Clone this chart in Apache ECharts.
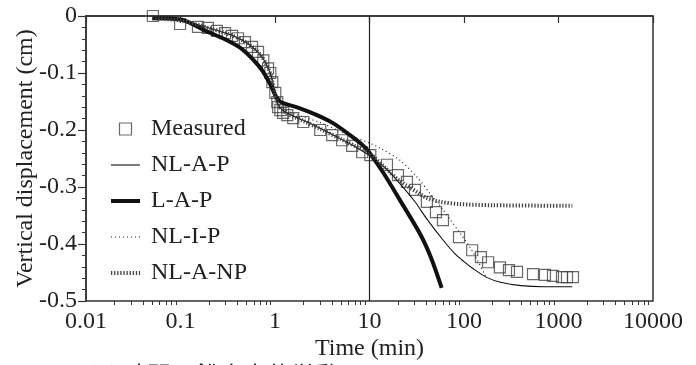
<!DOCTYPE html>
<html>
<head>
<meta charset="utf-8">
<script src="https://cdn.jsdelivr.net/npm/echarts@6/dist/echarts.min.js"></script>
<style>
html,body{margin:0;padding:0;background:#fff;}
#chart{width:696px;height:365px;}
</style>
</head>
<body>
<div id="chart"></div>
<script>
// ---- data ----
const seriesNames = ['Measured', 'NL-A-P', 'L-A-P', 'NL-I-P', 'NL-A-NP'];
const xMajorTicks = [0.01, 0.1, 1, 10, 100, 1000, 10000];
const xMinorTicks = [0.02,0.03,0.04,0.05,0.06,0.07,0.08,0.09,
  0.2,0.3,0.4,0.5,0.6,0.7,0.8,0.9,
  2,3,4,5,6,7,8,9,
  20,30,40,50,60,70,80,90,
  200,300,400,500,600,700,800,900,
  2000,3000,4000,5000,6000,7000,8000,9000];
const yTicks = [0, -0.1, -0.2, -0.3, -0.4, -0.5];
const referenceTime = 10;

const measured = [
  [0.051,0.000],[0.099,-0.014],[0.153,-0.019],[0.195,-0.021],[0.243,-0.026],
  [0.296,-0.030],[0.351,-0.035],[0.406,-0.039],[0.481,-0.046],[0.571,-0.054],
  [0.661,-0.063],[0.752,-0.078],[0.843,-0.092],[0.892,-0.100],[0.936,-0.116],
  [1.007,-0.135],[1.057,-0.151],[1.08,-0.160],[1.14,-0.165],[1.22,-0.170],
  [1.35,-0.174],[1.56,-0.179],[1.99,-0.186],[3.01,-0.200],[4.03,-0.209],
  [5.14,-0.218],[6.56,-0.228],[8.37,-0.239],[10.2,-0.244],[15.3,-0.261],
  [20.0,-0.279],[24.9,-0.291],[30.3,-0.305],[40.5,-0.326],[50.5,-0.344],
  [59.9,-0.358],[88.5,-0.388],[122,-0.411],[151,-0.423],[180,-0.432],
  [240,-0.441],[299,-0.446],[364,-0.449],[537,-0.453],[719,-0.454],
  [874,-0.456],[1089,-0.458],[1230,-0.458],[1423,-0.458]
];
const nlAP = [
  [0.05,-0.004],[0.1,-0.008],[0.15,-0.015],[0.2,-0.021],[0.3,-0.030],[0.4,-0.038],
  [0.5,-0.047],[0.6,-0.057],[0.7,-0.068],[0.8,-0.083],[0.9,-0.103],[0.95,-0.118],
  [1.0,-0.135],[1.05,-0.150],[1.12,-0.160],[1.25,-0.167],[1.5,-0.174],[2,-0.183],
  [3,-0.197],[5,-0.216],[7,-0.229],[10,-0.245],[15,-0.268],[20,-0.290],[30,-0.325],
  [40,-0.355],[60,-0.393],[80,-0.417],[100,-0.431],[124,-0.443],[176,-0.459],
  [243,-0.467],[400,-0.473],[700,-0.475],[1400,-0.475]
];
const lAP = [
  [0.05,-0.004],[0.1,-0.006],[0.126,-0.012],[0.19,-0.027],[0.28,-0.039],[0.43,-0.056],
  [0.59,-0.077],[0.75,-0.098],[0.93,-0.126],[1.0,-0.138],[1.13,-0.150],[1.34,-0.155],
  [1.84,-0.162],[2.78,-0.174],[4.11,-0.188],[6.22,-0.209],[8.53,-0.227],[10,-0.240],
  [14,-0.275],[21,-0.323],[35,-0.385],[45,-0.425],[58,-0.477]
];
const nlIP = [
  [0.05,-0.004],[0.1,-0.008],[0.15,-0.015],[0.2,-0.021],[0.3,-0.030],[0.4,-0.038],
  [0.5,-0.047],[0.6,-0.057],[0.7,-0.068],[0.8,-0.083],[0.9,-0.103],[0.95,-0.118],
  [1.0,-0.135],[1.05,-0.150],[1.12,-0.158],[1.25,-0.164],[1.5,-0.170],[2,-0.177],
  [3,-0.187],[5,-0.203],[7,-0.213],[10,-0.223],[13,-0.232],[21,-0.253],[31.6,-0.282],
  [43.5,-0.311],[60,-0.340],[70,-0.355],[91,-0.381],[115,-0.405],[138,-0.428],[170,-0.457]
];
const nlANP = [
  [0.05,-0.004],[0.1,-0.008],[0.15,-0.015],[0.2,-0.021],[0.3,-0.030],[0.4,-0.038],
  [0.5,-0.047],[0.6,-0.057],[0.7,-0.068],[0.8,-0.083],[0.9,-0.103],[0.95,-0.118],
  [1.0,-0.135],[1.05,-0.150],[1.12,-0.160],[1.25,-0.168],[1.5,-0.175],[2,-0.184],
  [3,-0.198],[5,-0.216],[7,-0.228],[10,-0.241],[15,-0.268],[20,-0.287],[25,-0.298],
  [32,-0.309],[40,-0.319],[56,-0.326],[90,-0.330],[200,-0.332],[1400,-0.333]
];
const caption = '(a) 時間－鉛直変位挙動';

// ---- chart ----
const serif = '"Liberation Serif", "DejaVu Serif", serif';
const axisColor = '#333';
const fs = 24;
const styles = {
  'NL-A-P': {color: '#111', width: 1.1, type: 'solid'},
  'L-A-P': {color: '#111', width: 4, type: 'solid'},
  'NL-I-P': {color: '#222', width: 1.2, type: [1, 3]},
  'NL-A-NP': {color: '#444', width: 4, type: [1.3, 1.8]}
};
const lineSeries = [['NL-A-P', nlAP], ['L-A-P', lAP], ['NL-I-P', nlIP], ['NL-A-NP', nlANP]].map(([name, data], i) => {
  const s = {name, type: 'line', data, symbol: 'none', smooth: 0.3, lineStyle: styles[name], itemStyle: {color: styles[name].color}};
  if (i === 0) {
    s.markLine = {silent: true, symbol: 'none', label: {show: false},
      lineStyle: {color: '#222', width: 1.2, type: 'solid'}, data: [{xAxis: referenceTime}]};
  }
  return s;
});
const legendData = [{name: 'Measured', icon: 'path://M0,0H10V10H0Z', itemStyle: {color: 'rgba(0,0,0,0)', borderColor: '#444', borderWidth: 1.2}}]
  .concat(seriesNames.slice(1).map(n => ({name: n, itemStyle: {opacity: 0}, lineStyle: styles[n]})));

const chart = echarts.init(document.getElementById('chart'), null, {renderer: 'canvas'});
chart.setOption({
  animation: false,
  backgroundColor: '#fff',
  textStyle: {fontFamily: serif},
  grid: {left: 86, right: 43, top: 16, bottom: 64, containLabel: false, outerBoundsMode: 'none',
    show: true, borderColor: axisColor, borderWidth: 1.5, backgroundColor: 'transparent'},
  legend: {
    orient: 'vertical', left: 104, top: 112,
    itemWidth: 29, itemHeight: 12, itemGap: 12,
    textStyle: {fontFamily: serif, fontSize: fs, color: '#222', lineHeight: 22, padding: [0,0,0,6]},
    data: legendData
  },
  xAxis: [{
    type: 'log', logBase: 10, min: 0.01, max: 10000,
    name: 'Time (min)', nameLocation: 'middle', nameGap: 36, nameMoveOverlap: false,
    nameTextStyle: {fontFamily: serif, fontSize: fs, color: '#222'},
    axisLine: {show: true, lineStyle: {color: axisColor, width: 1.5}},
    axisTick: {show: true, inside: false, length: 7, customValues: xMajorTicks, lineStyle: {color: axisColor, width: 1.2}},
    axisLabel: {customValues: xMajorTicks, fontFamily: serif, fontSize: fs, color: '#222', margin: 9, formatter: v => String(v)},
    splitLine: {show: false}
  }, {
    type: 'log', logBase: 10, min: 0.01, max: 10000, position: 'bottom', offset: 0,
    axisLine: {show: false},
    axisTick: {show: true, inside: false, length: 4, customValues: xMinorTicks, lineStyle: {color: axisColor, width: 1}},
    axisLabel: {show: false},
    splitLine: {show: false}
  }],
  yAxis: {
    type: 'value', min: -0.5, max: 0, interval: 0.1,
    name: 'Vertical displacement (cm)', nameLocation: 'middle', nameGap: 48, nameMoveOverlap: false,
    nameTextStyle: {fontFamily: serif, fontSize: fs, color: '#222'},
    axisLine: {show: true, lineStyle: {color: axisColor, width: 1.5}},
    axisTick: {show: true, inside: false, length: 8, lineStyle: {color: axisColor, width: 1.2}},
    minorTick: {show: true, splitNumber: 5, length: 4, lineStyle: {color: axisColor, width: 1}},
    axisLabel: {fontFamily: serif, fontSize: fs, color: '#222', margin: 9, formatter: v => String(Math.round(v*10)/10)},
    splitLine: {show: false}
  },
  series: [
    {name: 'Measured', type: 'scatter', data: measured, symbol: 'rect', symbolSize: 11,
     itemStyle: {color: 'rgba(0,0,0,0)', borderColor: '#444', borderWidth: 1.2}}
  ].concat(lineSeries),
  graphic: [{
    type: 'text', left: 88, top: 363,
    style: {text: caption, font: '24px "Noto Sans CJK JP"', fill: '#222'}
  }]
});
</script>
</body>
</html>
